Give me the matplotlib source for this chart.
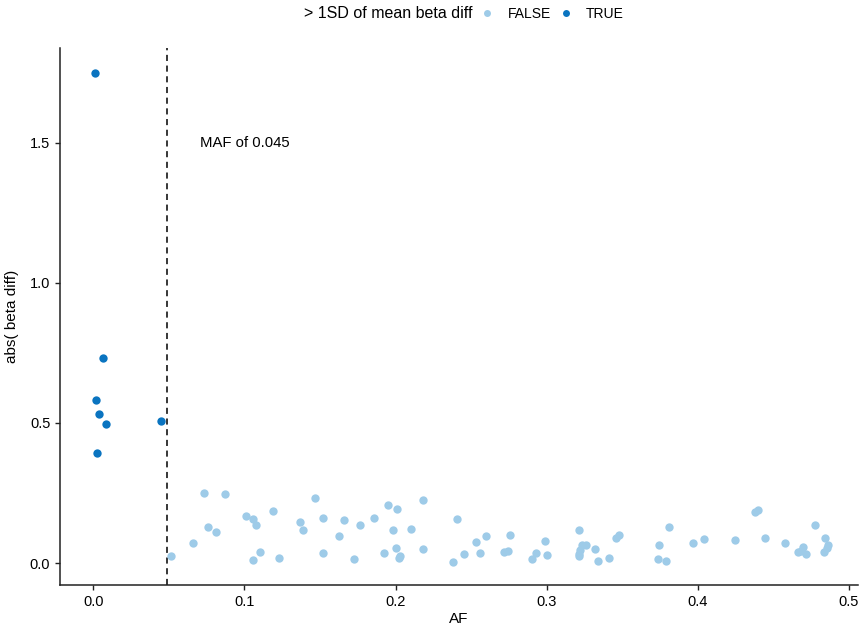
import matplotlib
matplotlib.use("Agg")
import matplotlib.pyplot as plt
from matplotlib.lines import Line2D

plt.rcParams['font.family'] = ['Liberation Sans', 'DejaVu Sans']

# SNPs above 1 SD of the mean beta difference
true_af = [0.0013, 0.0066, 0.0020, 0.0040, 0.0086, 0.0026, 0.0450]
true_beta = [1.750, 0.732, 0.582, 0.532, 0.496, 0.393, 0.507]

# the rest
false_af = [0.0730, 0.0871, 0.1470, 0.2185, 0.1947, 0.2011, 0.1190, 0.1008, 0.1058,
            0.1076, 0.1521, 0.1365, 0.1387, 0.1660, 0.1768, 0.1858, 0.1986, 0.2103,
            0.2410, 0.0760, 0.0809, 0.0659, 0.0516, 0.1102, 0.1054, 0.1232, 0.1521,
            0.1627, 0.1728, 0.1922, 0.2006, 0.2030, 0.2022, 0.2185, 0.2377,
            0.2456, 0.2535, 0.2601, 0.2562, 0.2756, 0.2720, 0.2747, 0.2901, 0.2928,
            0.2987, 0.3003, 0.3214, 0.3232, 0.3261, 0.3221, 0.3214, 0.3216, 0.3322,
            0.3338, 0.3413, 0.3457, 0.3479, 0.3743, 0.3734, 0.3787, 0.3807, 0.3966,
            0.4043, 0.4246, 0.4380, 0.4396, 0.4444, 0.4579, 0.4698, 0.4665, 0.4714,
            0.4683, 0.4773, 0.4843, 0.4859, 0.4852, 0.4837]
false_beta = [0.249, 0.246, 0.231, 0.225, 0.207, 0.193, 0.186, 0.168, 0.157,
              0.137, 0.162, 0.145, 0.117, 0.154, 0.135, 0.162, 0.118, 0.123,
              0.158, 0.130, 0.112, 0.071, 0.026, 0.040, 0.011, 0.018, 0.036,
              0.098, 0.014, 0.036, 0.055, 0.026, 0.017, 0.049, 0.005,
              0.033, 0.075, 0.095, 0.036, 0.100, 0.038, 0.042, 0.015, 0.037,
              0.080, 0.030, 0.118, 0.064, 0.065, 0.046, 0.025, 0.032, 0.049,
              0.006, 0.018, 0.090, 0.099, 0.063, 0.014, 0.007, 0.130, 0.070,
              0.085, 0.082, 0.182, 0.188, 0.090, 0.070, 0.056, 0.039, 0.031,
              0.043, 0.136, 0.090, 0.065, 0.052, 0.039]

maf_cut = 0.049
col_false = '#9ecbe8'
col_true = '#0a74c0'

fig = plt.figure(figsize=(8.61, 6.3), dpi=100)
ax = fig.add_axes([0.0697, 0.0714, 0.9268, 0.8524])

ax.scatter(false_af, false_beta, s=36, color=col_false, linewidths=0, zorder=3)
ax.scatter(true_af, true_beta, s=36, color=col_true, linewidths=0, zorder=3)
ax.axvline(maf_cut, color='black', linestyle=(0, (4, 3)), linewidth=1.1)
ax.text(0.1, 1.5, "MAF of 0.045", ha='center', va='center', fontsize=10.7)

ax.set_xlim(-0.022, 0.506)
ax.set_ylim(-0.0786, 1.839)
ax.set_xticks([0.0, 0.1, 0.2, 0.3, 0.4, 0.5])
ax.set_xticklabels(['0.0', '0.1', '0.2', '0.3', '0.4', '0.5'])
ax.set_yticks([0.0, 0.5, 1.0, 1.5])
ax.set_yticklabels(['0.0', '0.5', '1.0', '1.5'])
ax.set_xlabel("AF", fontsize=11, labelpad=2)
ax.set_ylabel("abs( beta diff)", fontsize=11, labelpad=8)

for side in ['top', 'right']:
    ax.spines[side].set_visible(False)
for side in ['left', 'bottom']:
    ax.spines[side].set_linewidth(1.1)
    ax.spines[side].set_color('#222222')
ax.tick_params(direction='out', length=3.5, width=1, labelsize=10.5, colors='#222222')
ax.tick_params(labelcolor='black')

# legend on top: title as plain text, keys next to it
fig.text(472 / 861, 1 - 14 / 630, "> 1SD of mean beta diff", ha='right', va='center', fontsize=11.5)
handles = [Line2D([], [], marker='o', linestyle='none', markersize=5, color=col_false, markeredgewidth=0),
           Line2D([], [], marker='o', linestyle='none', markersize=5, color=col_true, markeredgewidth=0)]
fig.legend(handles, ['FALSE', 'TRUE'], ncol=2, loc='center left',
           bbox_to_anchor=(479 / 861, 1 - 14 / 630), frameon=False, fontsize=10,
           handletextpad=0.85, columnspacing=0.5, handlelength=1.2, borderaxespad=0, borderpad=0)

fig.savefig("out.png", dpi=100)
